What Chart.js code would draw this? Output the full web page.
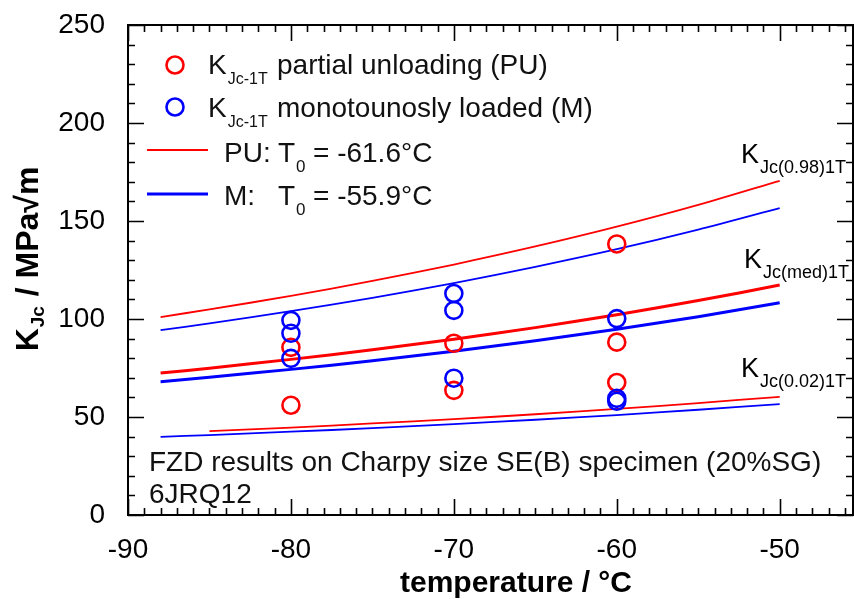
<!DOCTYPE html>
<html>
<head>
<meta charset="utf-8">
<script src="https://cdn.jsdelivr.net/npm/chart.js@4.4.1/dist/chart.umd.min.js"></script>
<style>
  html, body { margin: 0; padding: 0; background: #fff; }
  canvas { display: block; }
</style>
</head>
<body>
<canvas id="kjcChart" width="854" height="599"></canvas>
<script>
// master curve temperatures and fracture toughness (MPa√m)
const curveTemps = [-88, -85, -80, -75, -70, -65, -60, -55, -50];
const puUpper  = [101.0, 104.9, 111.8, 119.4, 127.8, 137.0, 147.1, 158.2, 170.5];
const puMedian = [72.4, 74.9, 79.4, 84.3, 89.7, 95.6, 102.2, 109.4, 117.3];
const puLower  = [null, 42.8, 44.6, 46.7, 48.9, 51.4, 54.1, 57.1, 60.3];
const mUpper   = [94.3, 97.8, 104.0, 110.8, 118.3, 126.6, 135.6, 145.6, 156.6];
const mMedian  = [68.0, 70.3, 74.3, 78.7, 83.6, 88.9, 94.8, 101.2, 108.3];
const mLower   = [39.9, 40.8, 42.5, 44.3, 46.4, 48.6, 51.0, 53.7, 56.6];

// test results
const puTemps = [-80, -80, -70, -70, -60, -60, -60];
const puK     = [85.5, 56.0, 87.6, 63.6, 138.3, 88.2, 67.6];
const mTemps  = [-80, -80, -80, -70, -70, -70, -60, -60, -60];
const mK      = [99.3, 92.7, 79.9, 113.0, 104.4, 69.8, 100.2, 59.5, 58.0];

const xTicks = [-90, -80, -70, -60, -50];
const yTicks = [0, 50, 100, 150, 200, 250];

const RED = '#ff0000';
const BLUE = '#0000ff';
const FONT = '"Liberation Sans", Arial, sans-serif';

function toPoints(xs, ys) {
    return xs.map((x, i) => ({ x: x, y: ys[i] })).filter(p => p.y !== null);
}

function curve(values, color, width) {
    return {
        type: 'line',
        data: toPoints(curveTemps, values),
        borderColor: color,
        borderWidth: width,
        pointRadius: 0,
        tension: 0.3,
        fill: false,
        order: 3
    };
}

function markers(xs, ys, color, order) {
    return {
        type: 'scatter',
        data: toPoints(xs, ys),
        showLine: false,
        pointStyle: 'circle',
        pointRadius: 8.5,
        pointBorderWidth: 2.6,
        pointBorderColor: color,
        pointBackgroundColor: 'rgba(0,0,0,0)',
        order: order
    };
}

// keep the plot box where the layout padding puts it
function noScalePadding(s) {
    s.paddingTop = 0; s.paddingBottom = 0;
    s.paddingLeft = 0; s.paddingRight = 0;
}

// text with a subscript part, returns the x where it ended
function subText(ctx, x, y, main, sub, mainSize, subSize, drop, bold) {
    const w = bold ? 'bold ' : '';
    ctx.font = w + mainSize + 'px ' + FONT;
    ctx.fillText(main, x, y);
    x += ctx.measureText(main).width;
    ctx.font = w + subSize + 'px ' + FONT;
    ctx.fillText(sub, x + 1, y + drop);
    return x + 1 + ctx.measureText(sub).width;
}

const decorations = {
    id: 'decorations',
    afterDatasetsDraw(chart) {
        const ctx = chart.ctx;
        const area = chart.chartArea;
        const xs = chart.scales.x, ys = chart.scales.y;
        ctx.save();

        // frame and inward ticks on all four sides
        ctx.strokeStyle = '#000';
        ctx.lineWidth = 2;
        ctx.strokeRect(area.left, area.top, area.right - area.left, area.bottom - area.top);
        ctx.lineWidth = 1.6;
        ctx.beginPath();
        for (let t = -90; t <= xs.max; t += 1) {
            const px = Math.round(xs.getPixelForValue(t)) + 0.5;
            const len = t % 10 === 0 ? 16 : 7;
            ctx.moveTo(px, area.bottom); ctx.lineTo(px, area.bottom - len);
            ctx.moveTo(px, area.top); ctx.lineTo(px, area.top + len);
        }
        for (let v = 0; v <= 250; v += 10) {
            const py = Math.round(ys.getPixelForValue(v)) + 0.5;
            const len = v % 50 === 0 ? 16 : 7;
            ctx.moveTo(area.left, py); ctx.lineTo(area.left + len, py);
            ctx.moveTo(area.right, py); ctx.lineTo(area.right - len, py);
        }
        ctx.stroke();

        ctx.fillStyle = '#111';
        ctx.textBaseline = 'alphabetic';
        ctx.textAlign = 'left';

        // legend
        ctx.lineWidth = 2.6;
        ctx.strokeStyle = RED;
        ctx.beginPath(); ctx.arc(175, 65, 8.5, 0, Math.PI * 2); ctx.stroke();
        ctx.strokeStyle = BLUE;
        ctx.beginPath(); ctx.arc(175, 107, 8.5, 0, Math.PI * 2); ctx.stroke();
        subText(ctx, 208, 74, 'K', 'Jc-1T', 28, 16, 10, false);
        subText(ctx, 208, 117, 'K', 'Jc-1T', 28, 16, 10, false);
        ctx.font = '28px ' + FONT;
        ctx.fillText('partial unloading (PU)', 277, 74);
        ctx.fillText('monotounosly loaded (M)', 277, 117);

        ctx.strokeStyle = RED; ctx.lineWidth = 1.8;
        ctx.beginPath(); ctx.moveTo(147, 150); ctx.lineTo(208, 150); ctx.stroke();
        ctx.strokeStyle = BLUE; ctx.lineWidth = 3;
        ctx.beginPath(); ctx.moveTo(147, 194); ctx.lineTo(208, 194); ctx.stroke();
        ctx.font = '28px ' + FONT;
        ctx.fillText('PU:', 224, 162);
        ctx.fillText('M:', 224, 205);
        subText(ctx, 278, 162, 'T', '0', 28, 17, 10, false);
        subText(ctx, 278, 205, 'T', '0', 28, 17, 10, false);
        ctx.font = '28px ' + FONT;
        ctx.fillText('= -61.6°C', 313, 162);
        ctx.fillText('= -55.9°C', 313, 205);

        // curve labels
        ctx.fillStyle = '#000';
        subText(ctx, 741, 163, 'K', 'Jc(0.98)1T', 27, 18, 10, false);
        subText(ctx, 744, 268, 'K', 'Jc(med)1T', 27, 18, 10, false);
        subText(ctx, 741, 377, 'K', 'Jc(0.02)1T', 27, 18, 10, false);

        // specimen note
        ctx.fillStyle = '#111';
        ctx.font = '28px ' + FONT;
        ctx.fillText('FZD results on Charpy size SE(B) specimen (20%SG)', 149, 471);
        ctx.fillText('6JRQ12', 149, 503);

        // axis titles
        ctx.fillStyle = '#000';
        ctx.font = 'bold 30px ' + FONT;
        ctx.textAlign = 'center';
        ctx.fillText('temperature / °C', 516, 592);

        ctx.save();
        ctx.translate(38, 259);
        ctx.rotate(-Math.PI / 2);
        ctx.textAlign = 'left';
        ctx.font = 'bold 32px ' + FONT;
        const wK = ctx.measureText('K').width;
        ctx.font = 'bold 19px ' + FONT;
        const wSub = ctx.measureText('Jc').width;
        ctx.font = 'bold 32px ' + FONT;
        const wRest = ctx.measureText(' / MPa√m').width;
        let start = -(wK + wSub + wRest + 2) / 2;
        const end = subText(ctx, start, 0, 'K', 'Jc', 32, 19, 6, true);
        ctx.font = 'bold 32px ' + FONT;
        ctx.fillText(' / MPa√m', end + 1, 0);
        ctx.restore();

        ctx.restore();
    }
};

new Chart(document.getElementById('kjcChart'), {
    type: 'line',
    data: {
        datasets: [
            markers(mTemps, mK, BLUE, 0),
            markers(puTemps, puK, RED, 1),
            curve(puUpper, RED, 1.8),
            curve(puMedian, RED, 3),
            curve(puLower, RED, 1.8),
            curve(mUpper, BLUE, 1.8),
            curve(mMedian, BLUE, 3),
            curve(mLower, BLUE, 1.8)
        ]
    },
    options: {
        responsive: false,
        animation: false,
        devicePixelRatio: 1,
        layout: { autoPadding: false, padding: { top: 25, right: 1, left: 0, bottom: 0 } },
        plugins: {
            legend: { display: false },
            tooltip: { enabled: false }
        },
        scales: {
            x: {
                type: 'linear',
                min: -90,
                max: -45.5,
                afterBuildTicks: s => { s.ticks = xTicks.map(v => ({ value: v })); },
                afterFit: s => { s.height = 84; noScalePadding(s); },
                grid: { display: false },
                border: { display: false },
                ticks: { color: '#000', padding: 10, font: { family: FONT, size: 28 } }
            },
            y: {
                type: 'linear',
                min: 0,
                max: 250,
                afterBuildTicks: s => { s.ticks = yTicks.map(v => ({ value: v })); },
                afterFit: s => { s.width = 128; noScalePadding(s); },
                grid: { display: false },
                border: { display: false },
                ticks: { color: '#000', padding: 15, font: { family: FONT, size: 28 } }
            }
        }
    },
    plugins: [decorations]
});
</script>
</body>
</html>
